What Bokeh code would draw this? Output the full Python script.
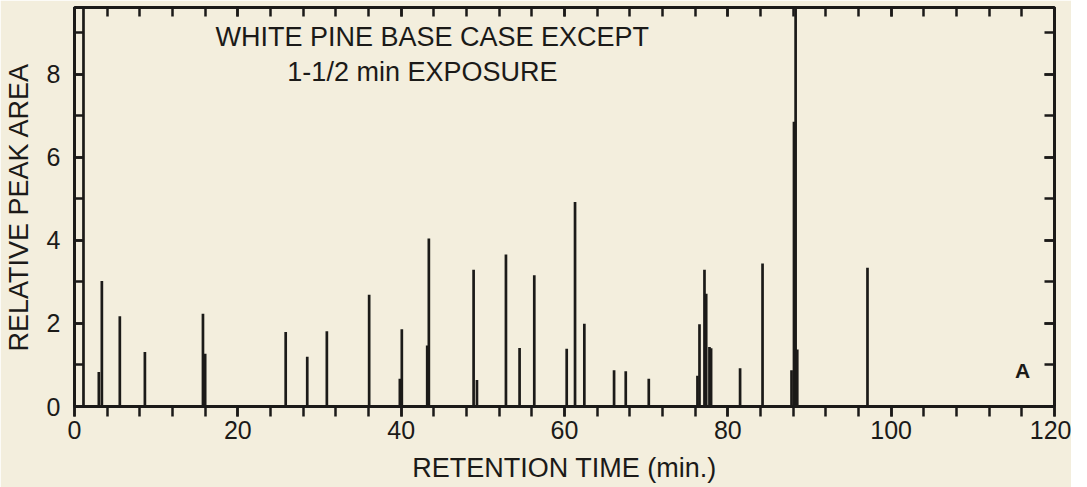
from bokeh.plotting import figure
from bokeh.models import (Range1d, LinearAxis, Label, SingleIntervalTicker,
                          CustomJSTickFormatter)
from bokeh.embed import file_html
from bokeh.resources import INLINE

# Retention times (min) and relative peak areas
retention_time = [1.1, 2.98, 3.35, 5.55, 8.62, 15.73, 16.0, 25.86, 28.5, 30.9,
                  36.08, 39.84, 40.08, 43.19, 43.39, 48.87, 49.28, 52.83, 54.5,
                  56.3, 60.27, 61.29, 62.43, 66.07, 67.5, 70.32, 76.28, 76.53,
                  77.14, 77.35, 77.75, 77.95, 81.5, 84.25, 87.8, 88.1, 88.3,
                  88.5, 97.1]
peak_area = [12.0, 0.83, 3.02, 2.17, 1.31, 2.23, 1.27, 1.79, 1.2, 1.81,
             2.69, 0.67, 1.86, 1.47, 4.04, 3.29, 0.64, 3.66, 1.41,
             3.16, 1.39, 4.92, 1.99, 0.87, 0.85, 0.67, 0.74, 1.98,
             3.29, 2.71, 1.43, 1.40, 0.92, 3.44, 0.87, 6.85, 12.0,
             1.37, 3.34]
baseline = [0.0] * len(retention_time)

title_lines = ["WHITE PINE BASE CASE EXCEPT", "1-1/2 min EXPOSURE"]
x_title = "RETENTION TIME (min.)"
y_title = "RELATIVE PEAK AREA"
panel_letter = "A"

BG = "#f3eedd"
INK = "#1b1a18"
FONT = "Liberation Sans"

p = figure(width=1071, height=487,
           x_range=Range1d(0, 120), y_range=Range1d(0, 9.6),
           output_backend="svg", toolbar_location=None,
           min_border_left=67, min_border_right=17,
           min_border_top=7, min_border_bottom=81,
           background_fill_color=BG, border_fill_color=BG,
           x_axis_label=x_title, y_axis_label=y_title)
p.grid.visible = False
p.outline_line_color = INK
p.outline_line_width = 3
p.outline_line_alpha = 1.0

xt = SingleIntervalTicker(interval=20, num_minor_ticks=5)
yt = SingleIntervalTicker(interval=2, num_minor_ticks=2)
blank = CustomJSTickFormatter(code="return ''")

xa = p.xaxis[0]
xa.ticker = xt
xa.major_tick_in = 0
xa.major_tick_out = 10
xa.minor_tick_in = 0
xa.minor_tick_out = 10
xa.major_tick_line_width = 2.5
xa.minor_tick_line_width = 2.5
xa.major_tick_line_color = INK
xa.minor_tick_line_color = INK
xa.axis_line_color = INK
xa.axis_line_width = 3
xa.major_label_text_font = FONT
xa.major_label_text_font_size = "25px"
xa.major_label_text_color = INK
xa.major_label_standoff = 4
xa.axis_label_text_font = FONT
xa.axis_label_text_font_size = "27px"
xa.axis_label_text_font_style = "normal"
xa.axis_label_text_color = INK
xa.axis_label_standoff = 11

ya = p.yaxis[0]
ya.ticker = yt
ya.major_tick_in = 9
ya.major_tick_out = 0
ya.minor_tick_in = 9
ya.minor_tick_out = 0
ya.major_tick_line_width = 2.5
ya.minor_tick_line_width = 2.5
ya.major_tick_line_color = INK
ya.minor_tick_line_color = INK
ya.axis_line_color = INK
ya.axis_line_width = 3
ya.major_label_text_font = FONT
ya.major_label_text_font_size = "25px"
ya.major_label_text_color = INK
ya.major_label_standoff = 14
ya.axis_label_text_font = FONT
ya.axis_label_text_font_size = "27px"
ya.axis_label_text_font_style = "normal"
ya.axis_label_text_color = INK
ya.axis_label_standoff = 10

top = LinearAxis(ticker=xt, formatter=blank, major_tick_in=9, major_tick_out=0,
                 minor_tick_in=9, minor_tick_out=0,
                 major_tick_line_width=2.5, minor_tick_line_width=2.5,
                 major_tick_line_color=INK, minor_tick_line_color=INK,
                 axis_line_color=None, major_label_text_font_size="1px",
                 major_label_standoff=0)
p.add_layout(top, "above")

right = LinearAxis(ticker=yt, formatter=blank, major_tick_in=10, major_tick_out=0,
                   minor_tick_in=10, minor_tick_out=0,
                   major_tick_line_width=2.5, minor_tick_line_width=2.5,
                   major_tick_line_color=INK, minor_tick_line_color=INK,
                   axis_line_color=None, major_label_text_font_size="1px",
                   major_label_standoff=0)
p.add_layout(right, "right")

p.segment(x0=retention_time, y0=baseline, x1=retention_time, y1=peak_area,
          line_color=INK, line_width=2.7)

p.add_layout(Label(x=43.8, y=8.89, text=title_lines[0], text_align="center",
                   text_baseline="middle", text_font=FONT,
                   text_font_size="27px", text_color=INK))
p.add_layout(Label(x=42.6, y=8.05, text=title_lines[1], text_align="center",
                   text_baseline="middle", text_font=FONT,
                   text_font_size="27px", text_color=INK))
p.add_layout(Label(x=116.1, y=0.87, text=panel_letter, text_align="center",
                   text_baseline="middle", text_font=FONT,
                   text_font_size="21px", text_font_style="bold",
                   text_color=INK))

open("out.html", "w").write(file_html(p, INLINE))
